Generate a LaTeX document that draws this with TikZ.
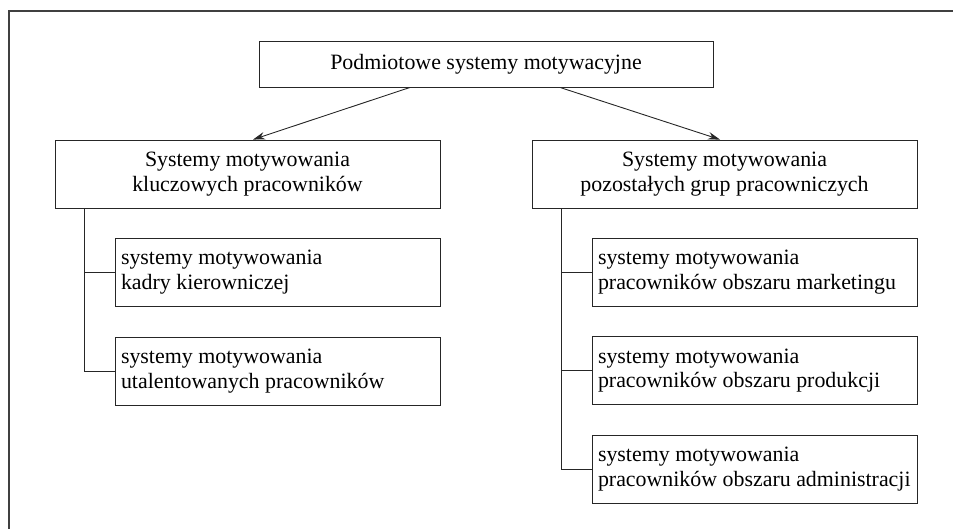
\documentclass[tikz,border=0pt]{standalone}
\usepackage{fontspec}
\setmainfont{Liberation Serif}
\usetikzlibrary{arrows.meta,positioning}
\tikzset{
  boxbase/.style={draw=black!85, line width=0.9pt, inner sep=0pt, minimum height=68pt,
    font=\fontsize{21.9}{24.8}\selectfont},
  topbox/.style={boxbase, minimum width=454pt, minimum height=46pt},
  midbox/.style={boxbase, minimum width=385pt, align=center},
  subbox/.style={boxbase, minimum width=325pt, text width=313pt, align=flush left},
  conn/.style={draw=black!85, line width=0.9pt},
  arr/.style={conn, -{Stealth[length=12pt,width=7.5pt]}},
  frameline/.style={draw=black!75, line width=1.2pt}
}
\begin{document}
\begin{tikzpicture}[x=1pt,y=-1pt]
\useasboundingbox (0,0) rectangle (953,529);
\coordinate (fa) at (9,529);
\coordinate (fb) at (9,11);
\coordinate (fc) at (953,11);
\draw[frameline] (fa) -- (fb) -- (fc);

\node[topbox] (top) at (486,64) {Podmiotowe systemy motywacyjne};
\node[midbox] (lmid) at (247.5,174) {Systemy motywowania\\kluczowych pracowników};
\node[midbox] (rmid) at (724.5,174) {Systemy motywowania\\pozostałych grup pracowniczych};

\node[subbox] (l1) at (277.5,272) {systemy motywowania\\kadry kierowniczej};
\node[subbox] (l2) at (277.5,371) {systemy motywowania\\utalentowanych pracowników};

\node[subbox] (r1) at (754.5,272) {systemy motywowania\\pracowników obszaru marketingu};
\node[subbox] (r2) at (754.5,370.5) {systemy motywowania\\pracowników obszaru produkcji};
\node[subbox] (r3) at (754.5,469) {systemy motywowania\\pracowników obszaru administracji};

\draw[arr] ([xshift=-76pt]top.south) -- ([xshift=5.5pt]lmid.north);
\draw[arr] ([xshift=74pt]top.south) -- ([xshift=-4.5pt]rmid.north);

\coordinate (lt) at ([xshift=30pt]lmid.south west);
\draw[conn] (lt) |- (l2.west);
\draw[conn] (l1.west) -- (l1.west -| lt);

\coordinate (rt) at ([xshift=30pt]rmid.south west);
\draw[conn] (rt) |- (r3.west);
\draw[conn] (r1.west) -- (r1.west -| rt);
\draw[conn] (r2.west) -- (r2.west -| rt);
\end{tikzpicture}
\end{document}
